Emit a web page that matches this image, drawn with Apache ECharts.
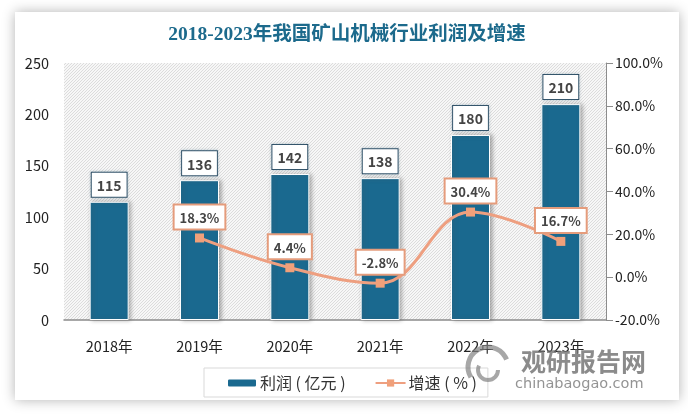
<!DOCTYPE html>
<html>
<head>
<meta charset="utf-8">
<style>
  html, body { margin: 0; padding: 0; background: #fff; }
  #chart { width: 688px; height: 414px; }
</style>
<script src="https://cdn.jsdelivr.net/npm/echarts@6/dist/echarts.min.js"></script>
</head>
<body>
<div id="chart"></div>
<script>
const years = ['2018年', '2019年', '2020年', '2021年', '2022年', '2023年'];
const profit = [115, 136, 142, 138, 180, 210];
const growth = [null, 18.3, 4.4, -2.8, 30.4, 16.7];
const leftTicks = [0, 250, 50];
const rightTicks = [-20, 100, 20];

const font = '"Noto Sans CJK SC", "Open Sans", sans-serif';

// hatched plot background
function hatch() {
  const c = document.createElement('canvas');
  c.width = 3; c.height = 3;
  const g = c.getContext('2d');
  g.fillStyle = '#f7f7f7';
  g.fillRect(0, 0, 3, 3);
  g.fillStyle = '#dcdcdc';
  g.fillRect(2, 0, 1, 1);
  g.fillRect(1, 1, 1, 1);
  g.fillRect(0, 2, 1, 1);
  return c;
}

const chart = echarts.init(document.getElementById('chart'), null, { renderer: 'canvas' });

const option = {
  animation: false,
  backgroundColor: '#fff',
  title: {
    text: '2018-2023年我国矿山机械行业利润及增速',
    left: 342,
    top: 20,
    textAlign: 'center',
    textStyle: {
      color: '#1c6a8c',
      fontSize: 19.5,
      fontWeight: 'bold',
      fontFamily: '"Liberation Serif", "Noto Sans CJK SC", serif'
    }
  },
  grid: {
    left: 64,
    right: 82,
    top: 63,
    height: 257,
    show: true,
    borderWidth: 0,
    backgroundColor: { image: hatch(), repeat: 'repeat' }
  },
  legend: {
    left: 204,
    top: 368,
    padding: [7, 11, 6, 22],
    itemGap: 29,
    itemWidth: 30,
    itemHeight: 9,
    borderColor: '#d9d9d9',
    borderWidth: 1,
    textStyle: { color: '#333', fontSize: 16, padding: [2, 0, 0, -2], fontFamily: font },
    data: ['利润 ( 亿元 )', '增速 ( % )']
  },
  xAxis: {
    type: 'category',
    data: years,
    axisLine: { lineStyle: { color: '#8c8c8c', width: 1.5 } },
    axisTick: { show: false },
    axisLabel: { color: '#222', fontSize: 14.5, margin: 19, fontFamily: font }
  },
  yAxis: [
    {
      type: 'value',
      min: leftTicks[0],
      max: leftTicks[1],
      interval: leftTicks[2],
      splitLine: { show: false },
      axisLine: { show: false },
      axisTick: { show: false },
      axisLabel: { color: '#222', fontSize: 14.5, margin: 15, fontFamily: font }
    },
    {
      type: 'value',
      position: 'right',
      min: rightTicks[0],
      max: rightTicks[1],
      interval: rightTicks[2],
      splitLine: { show: false },
      axisLine: { show: true, lineStyle: { color: '#8c8c8c' } },
      axisTick: { show: true, length: 7, lineStyle: { color: '#8c8c8c' } },
      axisLabel: {
        color: '#222',
        fontSize: 14,
        margin: 9,
        fontFamily: font,
        formatter: v => v.toFixed(1) + '%'
      }
    }
  ],
  series: [
    {
      name: '利润 ( 亿元 )',
      type: 'bar',
      data: profit,
      barWidth: 39,
      itemStyle: {
        color: '#1a698f',
        borderColor: '#fff',
        borderWidth: 1,
        shadowColor: 'rgba(80,80,80,0.45)',
        shadowBlur: 4,
        shadowOffsetX: 2
      },
      label: {
        show: true,
        position: 'top',
        distance: 5,
        color: '#444',
        fontSize: 14,
        fontWeight: 'bold',
        fontFamily: font,
        backgroundColor: '#fff',
        borderColor: '#2b4c63',
        borderWidth: 1,
        padding: [6, 5, 4, 5],
        shadowColor: 'rgba(120,150,170,0.5)',
        shadowBlur: 3
      }
    },
    {
      name: '增速 ( % )',
      type: 'line',
      yAxisIndex: 1,
      data: growth,
      smooth: 0.4,
      symbol: 'rect',
      symbolSize: 9,
      connectNulls: false,
      lineStyle: { color: '#ee9f80', width: 3 },
      itemStyle: { color: '#f0a07a' },
      label: {
        show: true,
        position: 'top',
        distance: 5,
        color: '#444',
        fontSize: 13,
        fontWeight: 'bold',
        fontFamily: font,
        backgroundColor: '#fff',
        borderColor: '#e59c7c',
        borderWidth: 2,
        padding: [6, 5, 4, 5],
        formatter: p => p.value.toFixed(1) + '%'
      }
    }
  ],
  graphic: [
    // card edge around the chart
    {
      type: 'rect',
      z: -10,
      silent: true,
      shape: { x: 15, y: 12, width: 664, height: 388 },
      style: { fill: '#fff', shadowColor: 'rgba(0,0,0,0.3)', shadowBlur: 12 }
    },
    // watermark
    {
      type: 'text',
      z: 50,
      silent: true,
      x: 521,
      y: 349,
      style: {
        text: '观研报告网',
        fill: 'rgba(110,110,110,0.8)',
        font: 'bold 25px "Noto Sans CJK SC"'
      }
    },
    {
      type: 'text',
      z: 50,
      silent: true,
      x: 515,
      y: 377,
      style: {
        text: 'chinabaogao.com',
        fill: 'rgba(120,120,120,0.8)',
        font: '14.5px "DejaVu Sans"'
      }
    },
    {
      type: 'arc',
      z: 50,
      silent: true,
      shape: { cx: 488, cy: 367, r: 20, startAngle: 2.6, endAngle: 5.9 },
      style: { stroke: 'rgba(130,130,130,0.7)', lineWidth: 5, fill: null }
    },
    {
      type: 'arc',
      z: 50,
      silent: true,
      shape: { cx: 488, cy: 370, r: 10, startAngle: 0, endAngle: 3.6 },
      style: { stroke: 'rgba(130,130,130,0.7)', lineWidth: 4, fill: null }
    }
  ]
};

chart.setOption(option);
</script>
</body>
</html>
